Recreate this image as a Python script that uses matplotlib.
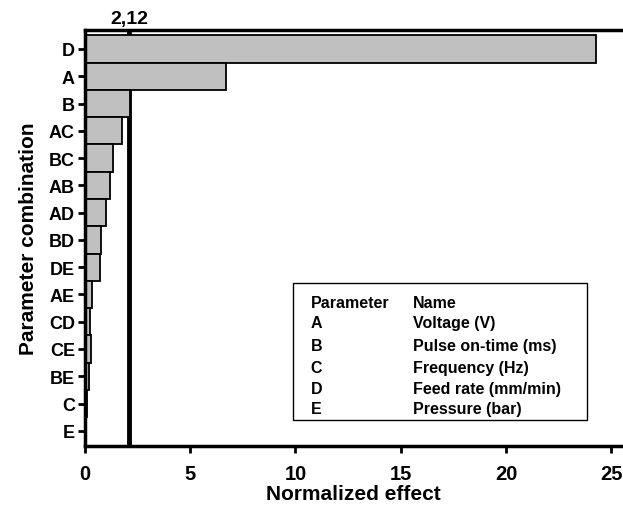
import matplotlib
matplotlib.use("Agg")
import matplotlib.pyplot as plt
import matplotlib.patches as mpatches

plt.rcParams['font.family'] = ['Liberation Sans', 'DejaVu Sans']
plt.rcParams['font.weight'] = 'bold'

# data
combos = ["D", "A", "B", "AC", "BC", "AB", "AD", "BD", "DE", "AE", "CD", "CE", "BE", "C", "E"]
effects = [24.25, 6.70, 2.15, 1.77, 1.33, 1.19, 1.03, 0.79, 0.74, 0.35, 0.27, 0.28, 0.20, 0.12, 0.06]
threshold = 2.12
threshold_label = "2,12"

params = ["A", "B", "C", "D", "E"]
names = ["Voltage (V)", "Pulse on-time (ms)", "Frequency (Hz)", "Feed rate (mm/min)", "Pressure (bar)"]

fig = plt.figure(figsize=(6.23, 5.06), dpi=100)
ax = fig.add_axes([0.136, 0.117, 0.864, 0.822])

ax.axvline(threshold, color="black", linewidth=3.5, zorder=1)
ax.barh(range(len(combos)), effects, height=1.0, color="#c0c0c0",
        edgecolor="black", linewidth=1.3, zorder=2)

ax.set_xlim(0, 25.55)
ax.set_ylim(14.55, -0.7)
ax.set_yticks(range(len(combos)))
ax.set_yticklabels(combos)
ax.set_xticks([0, 5, 10, 15, 20, 25])

for s in ["left", "bottom", "top"]:
    ax.spines[s].set_linewidth(2.5)
ax.spines["right"].set_visible(False)
ax.tick_params(axis="both", direction="out", width=2, length=5, pad=2)
ax.tick_params(axis="x", labelsize=14.5, pad=8)
ax.tick_params(axis="y", labelsize=13)

ax.set_xlabel("Normalized effect", fontsize=15, fontweight="bold", labelpad=1)
ax.set_ylabel("Parameter combination", fontsize=15, fontweight="bold", labelpad=8)

# threshold value above the plot
ax.text(threshold, 1.006, threshold_label, transform=ax.get_xaxis_transform(),
        ha="center", va="bottom", fontsize=14, fontweight="bold")

# parameter table box
box = mpatches.Rectangle((293 / 623, 1 - 421 / 506), (587 - 293) / 623, (421 - 284) / 506,
                         transform=fig.transFigure, fill=False, edgecolor="black", linewidth=1.0)
fig.patches.append(box)
rows_base = [307.7, 328, 351, 373.3, 394.3, 414.3]
col1 = ["Parameter"] + params
col2 = ["Name"] + names
for yy, a, b in zip(rows_base, col1, col2):
    fig.text(310.7 / 623, 1 - yy / 506, a, ha="left", va="baseline", fontsize=11.5, fontweight="bold")
    fig.text(413 / 623, 1 - yy / 506, b, ha="left", va="baseline", fontsize=11.5, fontweight="bold")

fig.savefig("out.png", dpi=100)
